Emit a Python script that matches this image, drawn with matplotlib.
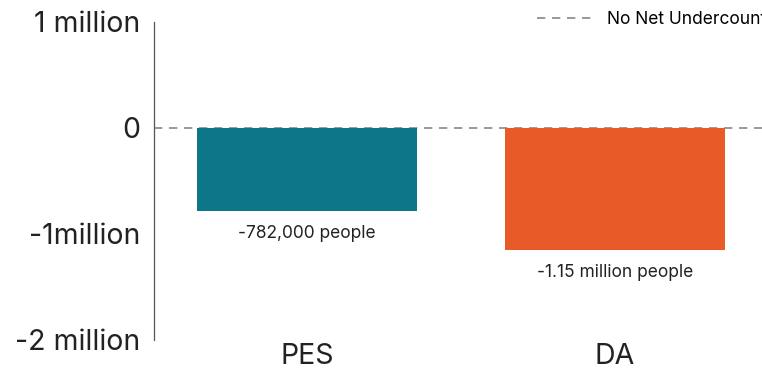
import numpy as np
import matplotlib.pyplot as plt

## data
categories = ["PES", "DA"]
values = [-782000, -1150000]
bar_labels = ["-782,000 people", "-1.15 million people"]
colors = ["#0d7689", "#e85a27"]
yticks = [1e6, 0, -1e6, -2e6]
ytick_labels = ["1 million", "0", "-1million", "-2 million"]

plt.rcParams['font.family'] = ['Inter', 'DejaVu Sans']

fig = plt.figure(figsize=(7.62, 3.69), dpi=100)
ax = fig.add_axes([154 / 762, 29 / 369, 608 / 762, 318 / 369])

x = np.arange(len(categories))
ax.bar(x, values, width=0.714, color=colors)
ax.axhline(0, color='#888888', lw=1.2, ls=(0, (5, 4)), zorder=0, label='No Net Undercount')

for xi, v, lab in zip(x, values, bar_labels):
    ax.annotate(lab, (xi, v), xytext=(0, -16), textcoords='offset points',
                ha='center', va='center', fontsize=12.5, color='#222222')

ax.set_xlim(-0.497, 1.477)
ax.set_ylim(-2e6, 1e6)
ax.set_yticks(yticks)
ax.set_yticklabels(ytick_labels, fontsize=20.5, color='#222222')
ax.set_xticks(x)
ax.set_xticklabels(categories, fontsize=20.5, color='#222222')
ax.tick_params(axis='y', length=0, pad=10)
ax.tick_params(axis='x', length=0, pad=2)
for s in ['top', 'right', 'bottom']:
    ax.spines[s].set_visible(False)
ax.spines['left'].set_color('#555555')
ax.spines['left'].set_linewidth(0.9)

# legend runs off the right edge, as in the original
ax.legend(loc='upper left', bbox_to_anchor=(0.605, 1.085), frameon=False,
          fontsize=12.5, handlelength=3.2, handletextpad=0.8)

plt.savefig('out.png', dpi=100)
